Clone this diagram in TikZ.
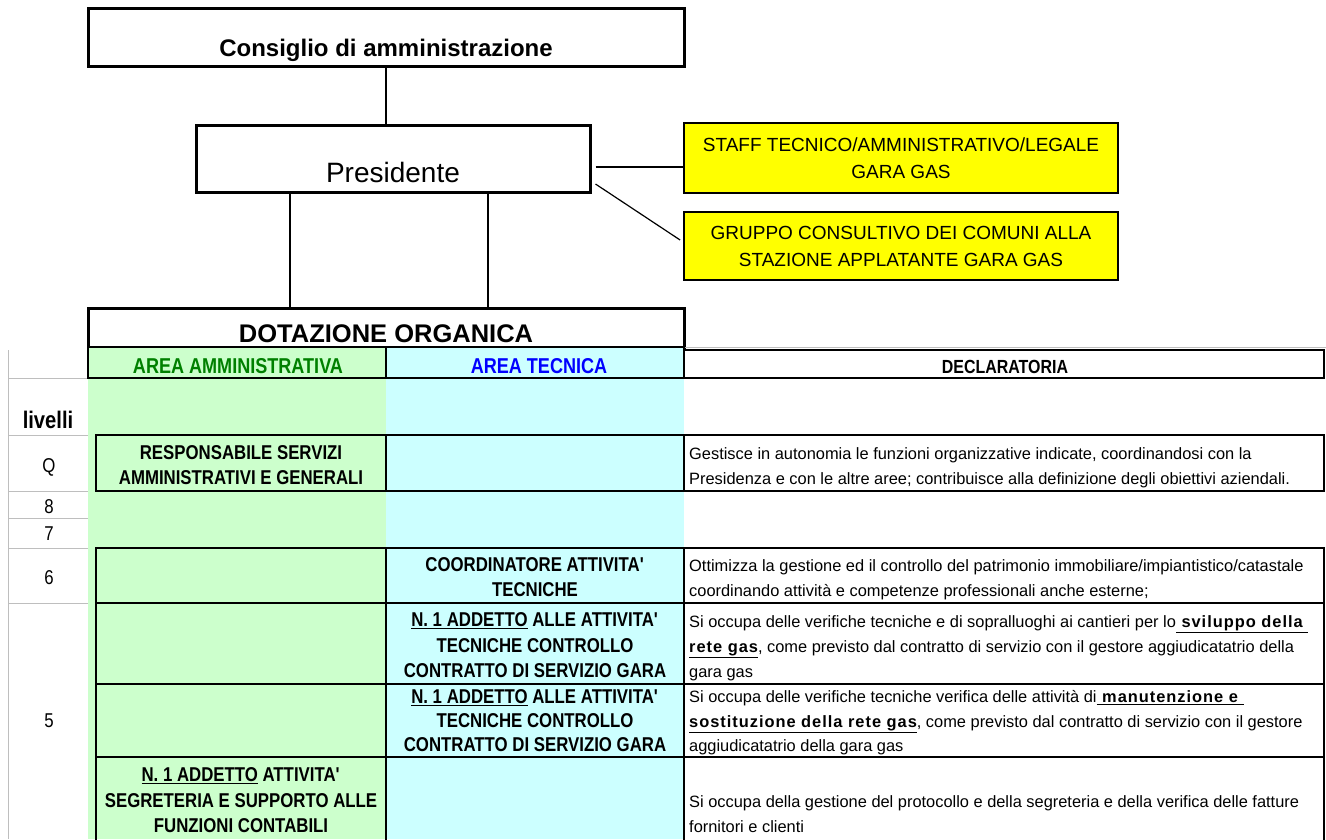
\documentclass[tikz,border=0pt]{standalone}
\usepackage{fontspec}
\setmainfont{Liberation Sans}
\newfontfamily\narrow[FakeStretch=0.84]{Liberation Sans}
\usetikzlibrary{positioning}

\definecolor{admgreen}{RGB}{204,255,204}
\definecolor{teccyan}{RGB}{204,255,255}
\definecolor{staffyellow}{RGB}{255,255,0}
\definecolor{hdgreen}{RGB}{0,128,0}
\definecolor{hdblue}{RGB}{0,0,255}
\definecolor{gridgray}{RGB}{190,190,190}

\newcommand{\cellstrut}{\rule[-6pt]{0pt}{6pt}}
\newcommand{\spb}[1]{{\bfseries\addfontfeatures{LetterSpace=6}#1}}
\newcommand{\apo}{\textquotesingle}

\tikzset{
  orgbox/.style={draw, line width=3pt, inner sep=0pt, text depth=0pt},
  staffbox/.style={draw, line width=1.8pt, fill=staffyellow, inner sep=0pt,
    minimum width=434pt, align=center, font=\fontsize{19}{27}\selectfont},
  link/.style={line width=1.2pt},
  cell/.style={line width=1.8pt},
  grid/.style={gridgray, line width=1pt},
  hdtext/.style={anchor=base, inner sep=0pt, font=\narrow\bfseries\fontsize{21.5}{24}\selectfont},
  role/.style={anchor=south, inner sep=0pt, align=center,
    font=\narrow\bfseries\fontsize{20}{25.5}\selectfont},
  duty/.style={anchor=south west, inner sep=0pt, align=left,
    font=\fontsize{16.4}{25}\selectfont},
  level/.style={anchor=base, inner sep=0pt, font=\narrow\fontsize{20}{24}\selectfont},
}

\begin{document}
\begin{tikzpicture}[x=1pt, y=-1pt]
\useasboundingbox (0,0) rectangle (1326,839);

% organigramma
\node[orgbox, minimum width=596pt, minimum height=58pt, text height=38pt,
  font=\bfseries\fontsize{24}{28}\selectfont] (cda) at (386,37) {Consiglio di amministrazione};
\node[orgbox, minimum width=394pt, minimum height=67pt, text height=47pt,
  font=\fontsize{28}{32}\selectfont] (pres) at (393,158.5) {Presidente};
\node[staffbox, minimum height=70pt] (staff) at (901,158) {STAFF TECNICO/AMMINISTRATIVO/LEGALE\\GARA GAS};
\node[staffbox, minimum height=68pt] (gruppo) at (901,246) {GRUPPO CONSULTIVO DEI COMUNI ALLA\\STAZIONE APPLATANTE GARA GAS};
\node[orgbox, minimum width=596pt, minimum height=39pt, text height=29pt,
  font=\bfseries\fontsize{25.5}{28}\selectfont] (dot) at (386,327.5) {DOTAZIONE ORGANICA};

\coordinate (pres-r1) at ([xshift=4pt, yshift=-8.5pt]pres.east);
\coordinate (pres-r2) at ([xshift=4pt, yshift=-25.5pt]pres.east);
\coordinate (pres-l) at ([xshift=-103pt]pres.south);
\coordinate (pres-m) at ([xshift=95pt]pres.south);

\draw[link] (cda.south) -- (cda.south |- pres.north);
\draw[link] (pres-l) -- (pres-l |- dot.north);
\draw[link] (pres-m) -- (pres-m |- dot.north);
\draw[link] (pres-r1) -- (pres-r1 -| staff.west);
\draw[link] (pres-r2) -- ([xshift=-3pt, yshift=6pt]gruppo.west);

% tabella: colonne colorate
\fill[admgreen] (88,347) rectangle (386,839);
\fill[teccyan] (386,347) rectangle (684,839);

% griglia dei livelli
\draw[grid] (8,350) -- (8,839);
\foreach \y in {378,435,491,518,548,603}
  \draw[grid] (8,\y) -- (88,\y);
\draw[grid] (684,347) -- (1326,347);

% intestazione
\draw[cell] (88,347) rectangle (684,378) (386,347) -- (386,378);
\draw[cell] (684,350) rectangle (1324,378);
\node[hdtext, text=hdgreen] (adm) at (238,373) {AREA AMMINISTRATIVA};
\node[hdtext, text=hdblue] (tec) at (539,373) {AREA TECNICA};
\node[hdtext, font=\narrow\bfseries\fontsize{19}{22}\selectfont] (decl) at (1005,373) {DECLARATORIA};

% righe
\foreach \t/\b in {435/491, 548/603, 603/684, 684/757} {
  \draw[cell] (96,\t) rectangle (1324,\b);
  \draw[cell] (386,\t) -- (386,\b) (684,\t) -- (684,\b);
}
\draw[cell] (96,845) -- (96,757) -- (1324,757) -- (1324,845)
  (386,757) -- (386,845) (684,757) -- (684,845);

% livelli
\node[level, font=\narrow\bfseries\fontsize{24}{28}\selectfont] (liv) at (48,428) {livelli};
\node[level] (lv-q) at (49,472) {Q};
\node[level] (lv-8) at (49,513) {8};
\node[level] (lv-7) at (49,540) {7};
\node[level] (lv-6) at (49,584) {6};
\node[level] (lv-5) at (49,727) {5};

% livello Q
\node[role] (q-adm) at (241,491) {RESPONSABILE SERVIZI\\AMMINISTRATIVI E GENERALI\cellstrut};
\node[duty] (q-decl) at (689,491) {Gestisce in autonomia le funzioni organizzative indicate, coordinandosi con la\\
  Presidenza e con le altre aree; contribuisce alla definizione degli obiettivi aziendali.\cellstrut};

% livello 6
\node[role] (r6-tec) at (535,603) {COORDINATORE ATTIVITA\apo\\TECNICHE\cellstrut};
\node[duty] (r6-decl) at (689,603) {Ottimizza la gestione ed il controllo del patrimonio immobiliare/impiantistico/catastale\\
  coordinando attività e competenze professionali anche esterne;\cellstrut};

% livello 5
\node[role] (r5a-tec) at (535,684) {\underline{N. 1 ADDETTO} ALLE ATTIVITA\apo\\TECNICHE CONTROLLO\\CONTRATTO DI SERVIZIO GARA\cellstrut};
\node[duty] (r5a-decl) at (689,684) {Si occupa delle verifiche tecniche e di sopralluoghi ai cantieri per lo\underline{\spb{\ sviluppo della }}\\
  \underline{\spb{rete gas}}, come previsto dal contratto di servizio con il gestore aggiudicatatrio della\\
  gara gas\cellstrut};

\node[role, font=\narrow\bfseries\fontsize{20}{24.3}\selectfont] (r5b-tec) at (535,757)
  {\underline{N. 1 ADDETTO} ALLE ATTIVITA\apo\\TECNICHE CONTROLLO\\CONTRATTO DI SERVIZIO GARA\rule[-5pt]{0pt}{5pt}};
\node[duty, font=\fontsize{16.4}{24.5}\selectfont] (r5b-decl) at (689,757) {Si occupa delle verifiche tecniche verifica delle attività di\underline{\spb{\ manutenzione e }}\\
  \underline{\spb{sostituzione della rete gas}}, come previsto dal contratto di servizio con il gestore\\
  aggiudicatatrio della gara gas\rule[-5pt]{0pt}{5pt}};

\node[role] (r5c-adm) at (241,839) {\underline{N. 1 ADDETTO} ATTIVITA\apo\\SEGRETERIA E SUPPORTO ALLE\\FUNZIONI CONTABILI\cellstrut};
\node[duty] (r5c-decl) at (689,839) {Si occupa della gestione del protocollo e della segreteria e della verifica delle fatture\\
  fornitori e clienti\cellstrut};
\end{tikzpicture}
\end{document}
